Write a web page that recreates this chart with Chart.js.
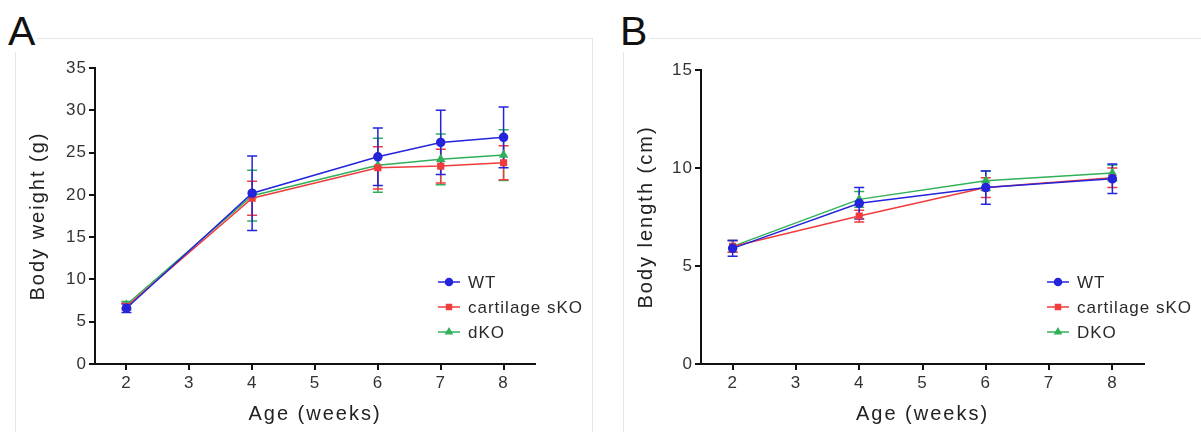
<!DOCTYPE html>
<html><head><meta charset="utf-8">
<script src="https://cdn.jsdelivr.net/npm/chart.js@4.4.1/dist/chart.umd.min.js"></script>
<style>
html,body{margin:0;padding:0;background:#fff;width:1201px;height:432px;overflow:hidden;font-family:"Liberation Sans",Arial,sans-serif;}
.panel{position:absolute;top:38px;height:420px;border:1px solid #e6e6e6;}
.lbl{position:absolute;font-size:41px;line-height:42px;color:#111;background:#fff;padding:0 2px;}
.cv{position:absolute;top:0;height:432px;}
</style></head><body>
<div class="panel" style="left:15px;width:576px;"></div>
<div class="panel" style="left:623px;width:600px;"></div>
<div class="lbl" style="left:6px;top:10px;">A</div>
<div class="lbl" style="left:618px;top:10px;">B</div>
<div class="cv" style="left:0;width:600px"><canvas id="cA"></canvas></div>
<div class="cv" style="left:600px;width:601px"><canvas id="cB"></canvas></div>
<script>
// ---------- data ----------
const seriesNames = ['WT', 'cartilage sKO', 'dKO'];
const seriesNamesB = ['WT', 'cartilage sKO', 'DKO'];
const weeksA = [2, 4, 6, 7, 8];
const weeksB = [2, 4, 6, 8];
const xTicks = [2, 3, 4, 5, 6, 7, 8];
const yTicksA = [0, 5, 10, 15, 20, 25, 30, 35];
const yTicksB = [0, 5, 10, 15];

// Panel A: body weight (g), mean and SD
const wtWeight = [6.6, 20.2, 24.5, 26.2, 26.8];
const wtWeightErr = [0.5, 4.4, 3.4, 3.8, 3.6];
const skoWeight = [6.8, 19.6, 23.2, 23.4, 23.8];
const skoWeightErr = [0.4, 2.0, 2.5, 2.0, 2.0];
const dkoWeight = [7.0, 19.9, 23.5, 24.2, 24.7];
const dkoWeightErr = [0.4, 3.0, 3.2, 3.0, 3.0];

// Panel B: body length (cm), mean and SD
const wtLength = [5.9, 8.2, 9.0, 9.45];
const wtLengthErr = [0.4, 0.8, 0.85, 0.75];
const skoLength = [6.0, 7.55, 9.0, 9.5];
const skoLengthErr = [0.3, 0.3, 0.5, 0.5];
const dkoLength = [6.0, 8.4, 9.35, 9.75];
const dkoLengthErr = [0.3, 0.4, 0.5, 0.4];

// ---------- styling ----------
const FONT = '"Liberation Sans", Arial, sans-serif';
const COLORS = ['#2424dc', '#f03c3c', '#30b058'];
const STYLES = ['circle', 'rect', 'triangle'];
Chart.defaults.font.family = FONT;

const spacing = {
  id: 'spacing',
  beforeDraw(chart) { chart.ctx.letterSpacing = '1px'; }
};

function patchTitle(s) {
  if (s._titlePatched) return;
  const orig = s.drawTitle;
  s.drawTitle = function () {
    const c = this.ctx, prev = c.letterSpacing;
    c.letterSpacing = '2px';
    orig.apply(this, arguments);
    c.letterSpacing = prev;
  };
  s._titlePatched = true;
}

const errorBars = {
  id: 'errorBars',
  beforeDatasetsDraw(chart) {
    const ctx = chart.ctx, xs = chart.scales.x, ys = chart.scales.y;
    for (let i = chart.data.datasets.length - 1; i >= 0; i--) {
      const ds = chart.data.datasets[i];
      ctx.save();
      ctx.strokeStyle = ds.borderColor;
      ctx.lineWidth = 1.5;
      ds.data.forEach((p, j) => {
        const e = ds.errors[j];
        const x = xs.getPixelForValue(p.x);
        const yt = ys.getPixelForValue(p.y + e);
        const yb = ys.getPixelForValue(p.y - e);
        ctx.beginPath();
        ctx.moveTo(x, yt); ctx.lineTo(x, yb);
        ctx.moveTo(x - 5, yt); ctx.lineTo(x + 5, yt);
        ctx.moveTo(x - 5, yb); ctx.lineTo(x + 5, yb);
        ctx.stroke();
      });
      ctx.restore();
    }
  }
};

const seriesLegend = {
  id: 'seriesLegend',
  afterDraw(chart, args, opts) {
    const ctx = chart.ctx;
    chart.data.datasets.forEach((ds, i) => {
      const y = opts.ys[i];
      ctx.save();
      ctx.strokeStyle = ds.borderColor;
      ctx.lineWidth = 1.5;
      ctx.beginPath();
      ctx.moveTo(opts.x, y); ctx.lineTo(opts.x + 22, y);
      ctx.stroke();
      ctx.fillStyle = ds.borderColor;
      Chart.helpers.drawPoint(ctx, {pointStyle: ds.pointStyle, radius: 3.5, rotation: 0, borderWidth: 1}, opts.x + 11, y);
      ctx.fillStyle = '#2a2a2a';
      ctx.font = '17px ' + FONT;
      ctx.letterSpacing = '1px';
      ctx.textBaseline = 'middle';
      ctx.textAlign = 'left';
      ctx.fillText(ds.label, opts.x + 30, y + 1);
      ctx.restore();
    });
  }
};

function makeChart(id, cfg) {
  const datasets = cfg.series.map((s, i) => ({
    label: s.name,
    data: cfg.xs.map((x, j) => ({x: x, y: s.mean[j]})),
    errors: s.err,
    borderColor: COLORS[i],
    backgroundColor: COLORS[i],
    pointBackgroundColor: COLORS[i],
    pointBorderColor: COLORS[i],
    pointStyle: STYLES[i],
    pointRadius: 4,
    borderWidth: 1.5,
    tension: 0
  }));
  return new Chart(document.getElementById(id), {
    type: 'line',
    data: {datasets},
    options: {
      responsive: true,
      maintainAspectRatio: false,
      animation: false,
      layout: {padding: cfg.padding},
      plugins: {
        legend: {display: false},
        tooltip: {enabled: false},
        seriesLegend: cfg.legend
      },
      scales: {
        x: {
          type: 'linear', min: 1.5, max: 8.5,
          afterBuildTicks: s => { s.ticks = xTicks.map(v => ({value: v})); },
          afterFit: s => { s.height = 68; },
          afterUpdate: patchTitle,
          grid: {display: true, drawOnChartArea: false, drawTicks: true, tickLength: 6, color: '#111', lineWidth: 2},
          border: {display: true, color: '#111', width: 2},
          ticks: {color: '#333', font: {size: 17}, padding: 3, maxRotation: 0, autoSkip: false},
          title: {display: true, text: 'Age (weeks)', color: '#222', font: {size: 20}, padding: {top: 0, bottom: 6}}
        },
        y: {
          type: 'linear', min: 0, max: cfg.yMax,
          afterBuildTicks: s => { s.ticks = cfg.yTicks.map(v => ({value: v})); },
          afterFit: s => { s.width = cfg.yWidth; },
          afterUpdate: patchTitle,
          grid: {display: true, drawOnChartArea: false, drawTicks: true, tickLength: 6, color: '#111', lineWidth: 2},
          border: {display: true, color: '#111', width: 2},
          ticks: {color: '#333', font: {size: 17}, padding: 2, autoSkip: false},
          title: {display: true, text: cfg.yTitle, color: '#222', font: {size: 20}, padding: {top: cfg.yTitlePad, bottom: 0}}
        }
      }
    },
    plugins: [spacing, errorBars, seriesLegend]
  });
}

makeChart('cA', {
  xs: weeksA,
  series: [
    {name: seriesNames[0], mean: wtWeight, err: wtWeightErr},
    {name: seriesNames[1], mean: skoWeight, err: skoWeightErr},
    {name: seriesNames[2], mean: dkoWeight, err: dkoWeightErr}
  ],
  yMax: 35, yTicks: yTicksA, yTitle: 'Body weight (g)',
  yWidth: 95, yTitlePad: 26,
  padding: {left: 0, right: 65, top: 68, bottom: 0},
  legend: {x: 438, ys: [282, 307, 332]}
});

makeChart('cB', {
  xs: weeksB,
  series: [
    {name: seriesNamesB[0], mean: wtLength, err: wtLengthErr},
    {name: seriesNamesB[1], mean: skoLength, err: skoLengthErr},
    {name: seriesNamesB[2], mean: dkoLength, err: dkoLengthErr}
  ],
  yMax: 15, yTicks: yTicksB, yTitle: 'Body length (cm)',
  yWidth: 101, yTitlePad: 34,
  padding: {left: 0, right: 57, top: 70, bottom: 0},
  legend: {x: 447, ys: [282, 307, 332]}
});
</script>
</body></html>
